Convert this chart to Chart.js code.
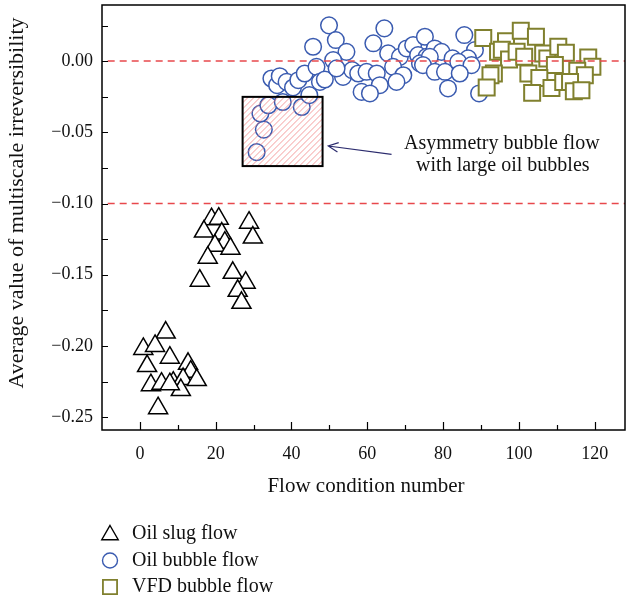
<!DOCTYPE html>
<html>
<head>
<meta charset="utf-8">
<script src="https://cdn.jsdelivr.net/npm/chart.js@4.4.0/dist/chart.umd.min.js"></script>
<style>
  html, body { margin: 0; padding: 0; background: #fff; }
</style>
</head>
<body>
<canvas id="chart" width="626" height="601"></canvas>
<script>
// ---- data ----
var slugX = [18.9, 20.8, 28.8, 16.9, 21.6, 29.8, 22.4, 19.8, 23.9, 17.9, 24.5, 15.8, 27.9, 25.8, 26.8,
             6.8, 0.9, 4.0, 7.9, 1.9, 12.7, 13.4, 2.9, 5.7, 8.8, 11.4, 15.0, 10.8, 4.8, 7.9];
var slugY = [-0.111, -0.1106, -0.1134, -0.1197, -0.1211, -0.1239, -0.1275, -0.1296, -0.1317, -0.138, -0.1486, -0.1542, -0.1556, -0.1613, -0.1697,
             -0.1906, -0.2021, -0.2, -0.2082, -0.2141, -0.2125, -0.2181, -0.2275, -0.2265, -0.2258, -0.2232, -0.2239, -0.231, -0.2437, -0.2268];

var bubbleX = [30.8, 32.7, 31.8, 33.9, 37.7, 42.7, 44.7, 34.7, 36.2, 36.9, 38.7, 40.4, 41.8, 43.5, 46.6, 47.5, 48.8,
               45.7, 49.9, 51.7, 54.5, 51.0, 53.6, 56.0, 58.5, 64.5, 61.6, 65.5, 68.6, 70.4, 72.1, 73.4, 75.2,
               75.6, 73.9, 51.9, 57.6, 59.8, 62.5, 66.8, 69.5, 67.7, 63.3, 60.7, 85.6, 77.8, 79.6, 76.5, 82.5,
               88.4, 86.6, 84.0, 87.5, 74.7, 77.8, 80.5, 84.4, 81.3, 89.5];
var bubbleY = [-0.0639, -0.0481, -0.0368, -0.031, -0.0287, -0.0322, -0.0239, -0.0122, -0.0169, -0.0106, -0.0146, -0.0185, -0.0134, -0.0087, -0.004, -0.0146, -0.0129,
               0.0101, 0.0251, 0.0148, 0.0065, 0.0007, -0.0111, -0.0063, -0.0216, 0.023, 0.0125, 0.0054, 0.003, 0.0089, 0.0113, 0.0042, 0.0171,
               0.003, -0.0016, -0.0051, -0.0087, -0.0075, -0.0087, -0.004, -0.0099, -0.0146, -0.0169, -0.0227, 0.0183, 0.0089, 0.0065, 0.003, 0.0019,
               0.0077, 0.0019, -0.0005, -0.0028, -0.0028, -0.0075, -0.0075, -0.0087, -0.0192, -0.0227];

var vfdX = [90.6, 96.6, 100.5, 104.5, 94.5, 95.5, 97.4, 99.4, 101.4, 106.4, 107.5, 110.4, 112.4, 109.5, 118.3, 119.4,
            93.4, 92.5, 102.5, 105.4, 108.6, 111.7, 115.4, 117.4, 113.5, 114.5, 116.5, 103.5, 91.5];
var vfdY = [0.0162, 0.0139, 0.0213, 0.0171, 0.0065, 0.008, 0.0012, 0.0065, 0.003, 0.0054, 0.0019, 0.0101, 0.0058, -0.0028, 0.0026, -0.004,
            -0.0087, -0.0099, -0.0087, -0.0118, -0.0188, -0.0146, -0.0068, -0.0099, -0.0146, -0.0211, -0.0204, -0.0223, -0.0185];

var seriesNames = ['Oil slug flow', 'Oil bubble flow', 'VFD bubble flow'];
var thresholdY = [0, -0.1];
var lineXRange = [-8.5, 128];

var xTicks = [0, 20, 40, 60, 80, 100, 120];
var xMinor = [0, 10, 20, 30, 40, 50, 60, 70, 80, 90, 100, 110, 120];
var yTicks = [0, -0.05, -0.1, -0.15, -0.2, -0.25];
var yMinor = [0.025, 0, -0.025, -0.05, -0.075, -0.1, -0.125, -0.15, -0.175, -0.2, -0.225, -0.25];

var boxX = [27.1, 48.2];
var boxY = [-0.0251, -0.0737];
var arrowFrom = [66.4, -0.0655];
var arrowTo = [49.7, -0.0596];
var noteLines = ['Asymmetry bubble flow', 'with large oil bubbles'];
var notePos = [95.5, -0.0578];

var serif = "'Liberation Serif', 'DejaVu Serif', serif";

function pts(xs, ys) {
  return xs.map(function(x, i) { return {x: x, y: ys[i]}; });
}

function noPad(s) {
  s.paddingTop = 0; s.paddingBottom = 0; s.paddingLeft = 0; s.paddingRight = 0;
}

var decor = {
  id: 'decor',
  afterDatasetsDraw: function(chart) {
    var ctx = chart.ctx, xs = chart.scales.x, ys = chart.scales.y;
    // hatched box
    var l = xs.getPixelForValue(boxX[0]), r = xs.getPixelForValue(boxX[1]);
    var t = ys.getPixelForValue(boxY[0]), b = ys.getPixelForValue(boxY[1]);
    ctx.save();
    ctx.beginPath();
    ctx.rect(l, t, r - l, b - t);
    ctx.clip();
    ctx.strokeStyle = 'rgba(240,120,120,0.8)';
    ctx.lineWidth = 0.9;
    ctx.beginPath();
    for (var k = l - (b - t); k < r; k += 6) {
      ctx.moveTo(k, b);
      ctx.lineTo(k + (b - t), t);
    }
    ctx.stroke();
    ctx.restore();

    ctx.save();
    ctx.strokeStyle = '#000';
    ctx.lineWidth = 2;
    ctx.strokeRect(l, t, r - l, b - t);

    // arrow
    var x1 = xs.getPixelForValue(arrowFrom[0]), y1 = ys.getPixelForValue(arrowFrom[1]);
    var x2 = xs.getPixelForValue(arrowTo[0]), y2 = ys.getPixelForValue(arrowTo[1]);
    var ang = Math.atan2(y1 - y2, x1 - x2);
    ctx.strokeStyle = '#2c2c6e';
    ctx.lineWidth = 1.2;
    ctx.beginPath();
    ctx.moveTo(x1, y1); ctx.lineTo(x2, y2);
    ctx.moveTo(x2 + 11 * Math.cos(ang + 0.45), y2 + 11 * Math.sin(ang + 0.45));
    ctx.lineTo(x2, y2);
    ctx.lineTo(x2 + 11 * Math.cos(ang - 0.45), y2 + 11 * Math.sin(ang - 0.45));
    ctx.stroke();

    // note text
    ctx.fillStyle = '#111';
    ctx.font = '20px ' + serif;
    ctx.textAlign = 'center';
    ctx.textBaseline = 'middle';
    var nx = xs.getPixelForValue(notePos[0]), ny = ys.getPixelForValue(notePos[1]);
    ctx.fillText(noteLines[0], nx, ny);
    ctx.fillText(noteLines[1], nx + 1, ny + 22);
    ctx.restore();
  },
  afterDraw: function(chart) {
    var ctx = chart.ctx, a = chart.chartArea, xs = chart.scales.x, ys = chart.scales.y;
    ctx.save();
    // frame
    ctx.strokeStyle = '#000';
    ctx.lineWidth = 1.5;
    ctx.strokeRect(a.left, a.top, a.right - a.left, a.bottom - a.top);
    // inward ticks
    ctx.lineWidth = 1.2;
    ctx.beginPath();
    xMinor.forEach(function(v) {
      var px = Math.round(xs.getPixelForValue(v)) + 0.5;
      var len = xTicks.indexOf(v) >= 0 ? 8 : 5;
      ctx.moveTo(px, a.bottom); ctx.lineTo(px, a.bottom - len);
    });
    yMinor.forEach(function(v) {
      var py = Math.round(ys.getPixelForValue(v)) + 0.5;
      ctx.moveTo(a.left, py); ctx.lineTo(a.left + 6, py);
    });
    ctx.stroke();

    // axis titles
    ctx.fillStyle = '#111';
    ctx.textAlign = 'center';
    ctx.textBaseline = 'middle';
    ctx.font = '21px ' + serif;
    ctx.fillText('Flow condition number', 366, 486);
    ctx.save();
    ctx.translate(17, 203);
    ctx.rotate(-Math.PI / 2);
    ctx.font = '22px ' + serif;
    ctx.fillText('Average value of multiscale irreversibility', 0, 0);
    ctx.restore();

    // legend
    var styles = [
      {pointStyle: 'triangle', radius: 9.5, color: '#000'},
      {pointStyle: 'circle', radius: 7.5, color: '#3a5bb0'},
      {pointStyle: 'rect', radius: 10, color: '#80802e'}
    ];
    ctx.textAlign = 'left';
    ctx.font = '20px ' + serif;
    styles.forEach(function(s, i) {
      var cy = 534 + i * 26.5;
      ctx.fillStyle = '#fff';
      ctx.strokeStyle = s.color;
      ctx.lineWidth = i === 2 ? 1.8 : 1.4;
      Chart.helpers.drawPoint(ctx, {pointStyle: s.pointStyle, radius: s.radius, rotation: 0, borderWidth: ctx.lineWidth}, 110, cy + (i === 0 ? 1 : 0));
      ctx.fillStyle = '#111';
      ctx.fillText(seriesNames[i], 132, cy);
    });
    ctx.restore();
  }
};

var tickFont = {family: serif, size: 18};

new Chart(document.getElementById('chart'), {
  type: 'scatter',
  data: {
    datasets: [
      {
        type: 'line', label: 'zero', data: pts(lineXRange, [thresholdY[0], thresholdY[0]]),
        borderColor: '#e8484c', borderWidth: 1.5, borderDash: [7, 5], pointRadius: 0, fill: false
      },
      {
        type: 'line', label: 'limit', data: pts(lineXRange, [thresholdY[1], thresholdY[1]]),
        borderColor: '#e8484c', borderWidth: 1.5, borderDash: [7, 5], pointRadius: 0, fill: false
      },
      {
        label: seriesNames[0], data: pts(slugX, slugY), pointStyle: 'triangle', pointRadius: 11,
        backgroundColor: '#fff', borderColor: '#000', borderWidth: 1.5, order: 3
      },
      {
        label: seriesNames[1], data: pts(bubbleX, bubbleY), pointStyle: 'circle', pointRadius: 8.3,
        backgroundColor: '#fff', borderColor: '#3a5bb0', borderWidth: 1.5, order: 2
      },
      {
        label: seriesNames[2], data: pts(vfdX, vfdY), pointStyle: 'rect', pointRadius: 11.3,
        backgroundColor: '#fff', borderColor: '#80802e', borderWidth: 2, order: 1
      }
    ]
  },
  options: {
    responsive: false,
    animation: false,
    layout: {autoPadding: false, padding: {left: 0, right: 1, top: 5, bottom: 0}},
    plugins: {legend: {display: false}, tooltip: {enabled: false}},
    scales: {
      x: {
        type: 'linear', min: -10, max: 128,
        afterBuildTicks: function(s) { s.ticks = xTicks.map(function(v) { return {value: v}; }); },
        afterFit: function(s) { s.height = 171; noPad(s); },
        grid: {display: false, drawTicks: false},
        border: {display: false},
        ticks: {font: tickFont, color: '#111', padding: 13, maxRotation: 0}
      },
      y: {
        type: 'linear', min: -0.259, max: 0.0394,
        afterBuildTicks: function(s) { s.ticks = yTicks.map(function(v) { return {value: v}; }); },
        afterFit: function(s) { s.width = 102; noPad(s); },
        grid: {display: false, drawTicks: false},
        border: {display: false},
        ticks: {
          font: tickFont, color: '#111', padding: 9,
          callback: function(v) {
            if (Math.abs(v) < 1e-9) return '0.00';
            return (v < 0 ? '\u2212' : '') + Math.abs(v).toFixed(2);
          }
        }
      }
    }
  },
  plugins: [decor]
});
</script>
</body>
</html>
